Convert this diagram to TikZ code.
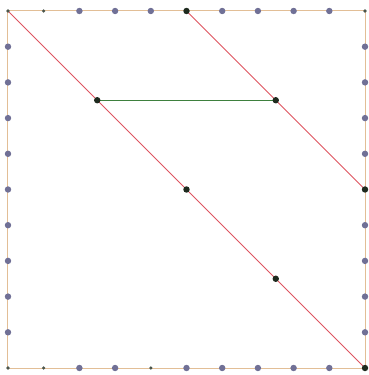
\documentclass[tikz,border=0pt]{standalone}
\usetikzlibrary{calc}
\definecolor{Edge}{RGB}{ 226, 190, 150 }
\definecolor{LRed}{RGB}{ 222, 84, 96 }
\definecolor{DGreen}{RGB}{ 62, 128, 62 }
\definecolor{Lila}{RGB}{ 112, 112, 150 }
\definecolor{Ink}{HTML}{1E2A1E}
\tikzset{
    gridpt/.style={circle, fill=Lila, inner sep=0pt, minimum size=0.18cm},
    smallpt/.style={circle, fill=Ink!80, inner sep=0pt, minimum size=0.1cm},
    keypt/.style={circle, fill=Ink, inner sep=0pt, minimum size=0.18cm},
}
\begin{document}
\begin{tikzpicture}[x=1cm, y=1cm]
\useasboundingbox (-0.224,-0.196) rectangle (10.084,10.308);

\draw[Edge, thick] (0,0) rectangle (10,10);

% points on the diagonals
\coordinate (A) at (0,10);
\coordinate (B) at (10,0);
\coordinate (C) at (5,10);
\coordinate (D) at (10,5);
\coordinate (E) at (2.5,7.5);
\coordinate (F) at (7.5,7.5);
\coordinate (M) at (5,5);
\coordinate (G) at (7.5,2.5);

\draw[LRed, thick] (A) -- (B);
\draw[LRed, thick] (C) -- (D);
\draw[DGreen, thick] (E) -- (F);

% dots along the edges
\foreach \k in {2,3,4,6,7,8,9}
    \node[gridpt] (top-\k) at (\k,10) {};
\foreach \k in {2,3,5,6,7,8,9}
    \node[gridpt] (bottom-\k) at (\k,0) {};
\foreach \k in {1,...,9}
    \node[gridpt] (left-\k) at (0,\k) {};
\foreach \k in {1,2,3,4,6,7,8,9}
    \node[gridpt] (right-\k) at (10,\k) {};
\node[smallpt] (top-1) at (1,10) {};
\node[smallpt] (bottom-0) at (0,0) {};
\node[smallpt] (bottom-1) at (1,0) {};
\node[smallpt] (bottom-4) at (4,0) {};
\node[smallpt] (top-10) at (10,10) {};

\node[smallpt] at (A) {};
\node[keypt] at (B) {};
\node[keypt] at (C) {};
\node[keypt] at (D) {};
\node[keypt] at (E) {};
\node[keypt] at (F) {};
\node[keypt] at (M) {};
\node[keypt] at (G) {};

\end{tikzpicture}
\end{document}
